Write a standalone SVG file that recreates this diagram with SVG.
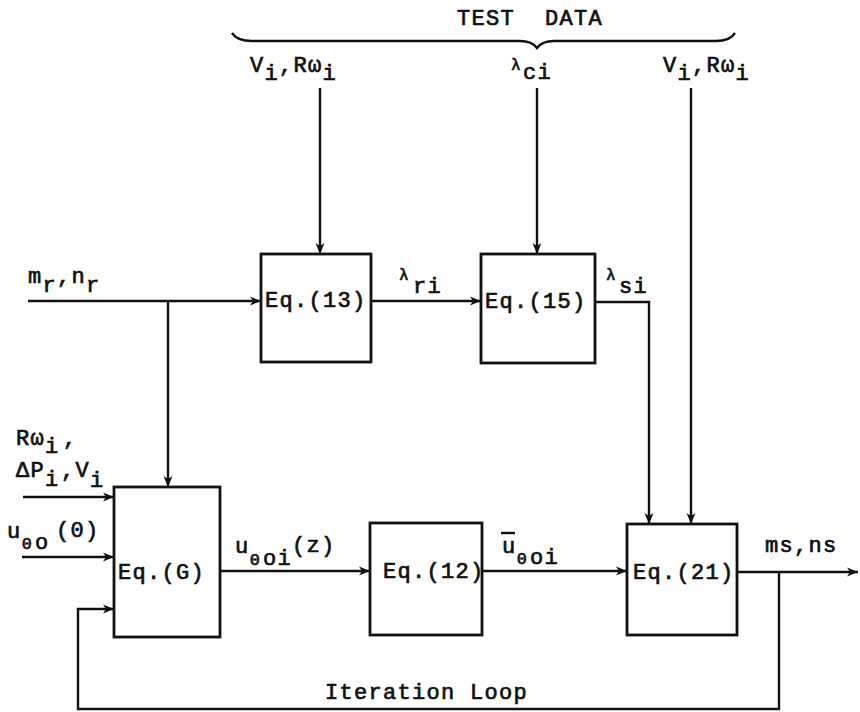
<svg xmlns="http://www.w3.org/2000/svg" width="860" height="712" viewBox="0 0 860 712">
<defs>
<marker id="ah" markerUnits="userSpaceOnUse" markerWidth="12" markerHeight="10" refX="11" refY="5" orient="auto">
<path d="M0,0.5 L11,5 L0,9.5 L3,5 Z" fill="#111"/>
</marker>
</defs>
<style>
.ln{fill:none;stroke:#111;stroke-width:2.4}
.ar{fill:none;stroke:#111;stroke-width:2.4;marker-end:url(#ah)}
.bx{fill:#fff;stroke:#111;stroke-width:2.8}
text{font-family:"Liberation Mono","Courier New",monospace;font-size:22px;fill:#111;stroke:#111;stroke-width:0.7;letter-spacing:1.3px}
.sm{font-size:16px;letter-spacing:0}
</style>
<rect width="860" height="712" fill="#fff"/>

<g id="test-data">
<path class="ln" d="M232,33 Q237,41 252,41 L520,41 Q532,41 537,48 Q542,41 554,41 L716,41 Q730,41 735,33"/>
<text x="457" y="25">TEST</text>
<text x="545" y="25">DATA</text>
</g>

<g id="connectors">
<path class="ar" d="M320,88 V254"/>
<path class="ar" d="M537,88 V254"/>
<path class="ar" d="M691,88 V524"/>
<path class="ar" d="M28,301 H261"/>
<path class="ar" d="M168,301 V487"/>
<path class="ar" d="M371,301 H481"/>
<path class="ar" d="M595,302 H649 V524"/>
<path class="ar" d="M23,497 H114"/>
<path class="ar" d="M22,557 H114"/>
<path class="ar" d="M220,571 H370"/>
<path class="ar" d="M482,571 H627"/>
<path class="ar" d="M737,572 H858"/>
<path class="ar" d="M779,572 V709 H78 V609 H114"/>
</g>

<g id="labels">
<text x="250" y="72">V<tspan dy="8">i</tspan><tspan dy="-8">,Rω</tspan><tspan dy="8">i</tspan></text>
<text class="sm" x="511" y="70">λ</text>
<text x="523" y="79">ci</text>
<text x="663" y="72">V<tspan dy="8">i</tspan><tspan dy="-8">,Rω</tspan><tspan dy="8">i</tspan></text>

<text x="28" y="283">m<tspan dy="9">r</tspan><tspan dy="-9">,n</tspan><tspan dy="9">r</tspan></text>
<text class="sm" x="399" y="280">λ</text>
<text x="413" y="293">ri</text>
<text class="sm" x="606" y="280">λ</text>
<text x="619" y="293">si</text>

<text x="16" y="445">Rω<tspan dy="8">i</tspan></text>
<text x="63" y="445">,</text>
<text x="16" y="477">ΔP<tspan dy="9">i</tspan></text>
<text x="61" y="477">,V<tspan dy="10">i</tspan></text>
<text x="7" y="538">u</text>
<text class="sm" x="22" y="549">Θ</text>
<text x="35" y="549">o</text>
<text x="56" y="537">(0)</text>

<text x="235" y="553">u</text>
<text class="sm" x="250" y="565">Θ</text>
<text x="263" y="565">oi</text>
<text x="292" y="552">(z)</text>

<text x="502" y="553">u</text>
<path class="ln" d="M501,533 H515" stroke-width="2"/>
<text class="sm" x="517" y="564">Θ</text>
<text x="530" y="564">oi</text>

<text x="765" y="552">ms,ns</text>
<text x="325" y="699">Iteration Loop</text>
</g>

<g id="eq13"><rect class="bx" x="261" y="254" width="110" height="108"/><text x="265" y="307">Eq.(13)</text></g>
<g id="eq15"><rect class="bx" x="481" y="254" width="114" height="109"/><text x="485" y="308">Eq.(15)</text></g>
<g id="eqG"><rect class="bx" x="114" y="487" width="106" height="150"/><text x="118" y="579">Eq.(G)</text></g>
<g id="eq12"><rect class="bx" x="370" y="523" width="112" height="112"/><text x="383" y="578">Eq.(12)</text></g>
<g id="eq21"><rect class="bx" x="627" y="524" width="110" height="111"/><text x="633" y="579">Eq.(21)</text></g>
</svg>
